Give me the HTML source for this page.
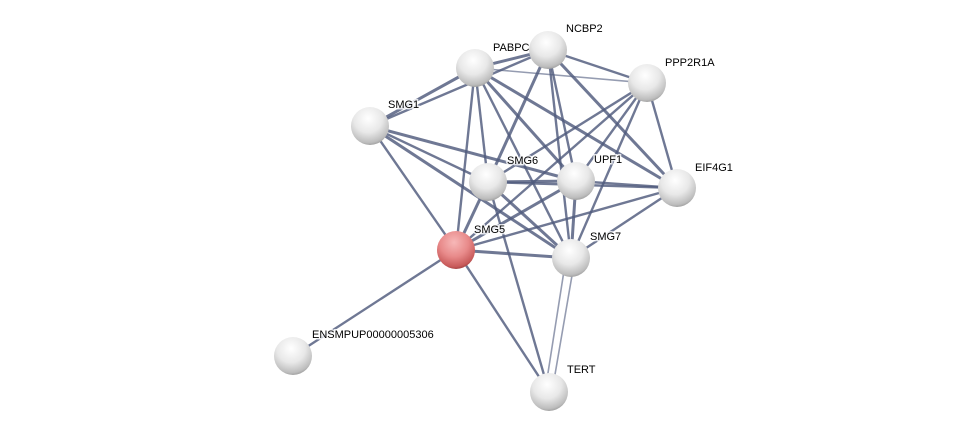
<!DOCTYPE html>
<html><head><style>
html,body{margin:0;padding:0;background:#fff;}
svg{display:block}
text{font-family:"Liberation Sans",sans-serif;font-size:11px;fill:#000;}
</style></head><body>
<svg width="975" height="436" viewBox="0 0 975 436">
<defs>
<radialGradient id="g" cx="0.45" cy="0.3" r="0.75">
<stop offset="0" stop-color="#ffffff"/>
<stop offset="0.5" stop-color="#e8e8e8"/>
<stop offset="0.85" stop-color="#bdbdbd"/>
<stop offset="1" stop-color="#8f8f8f"/>
</radialGradient>
<radialGradient id="r" cx="0.45" cy="0.3" r="0.75">
<stop offset="0" stop-color="#f7b8b8"/>
<stop offset="0.5" stop-color="#e88a8a"/>
<stop offset="0.85" stop-color="#c85a5a"/>
<stop offset="1" stop-color="#8e3434"/>
</radialGradient>
</defs>
<g stroke="#4f5a7d" stroke-opacity="0.82" fill="none">
<g stroke-width="3">
<line x1="475" y1="68" x2="548" y2="50"/>
<line x1="475" y1="68" x2="370" y2="126"/>
<line x1="548" y1="50" x2="488" y2="182"/>
<line x1="475" y1="68" x2="576" y2="181"/>
<line x1="475" y1="68" x2="677" y2="188"/>
<line x1="370" y1="126" x2="576" y2="181"/>
<line x1="488" y1="182" x2="576" y2="181"/>
<line x1="488" y1="182" x2="571" y2="258"/>
<line x1="456" y1="250" x2="488" y2="182"/>
<line x1="456" y1="250" x2="576" y2="181"/>
<line x1="456" y1="250" x2="571" y2="258"/>
<line x1="576" y1="181" x2="571" y2="258"/>
<line x1="370" y1="126" x2="571" y2="258"/>
<line x1="548" y1="50" x2="677" y2="188"/>
</g>
<g stroke-width="2.4">
<line x1="548" y1="50" x2="370" y2="126"/>
<line x1="475" y1="68" x2="488" y2="182"/>
<line x1="475" y1="68" x2="456" y2="250"/>
<line x1="475" y1="68" x2="571" y2="258"/>
<line x1="548" y1="50" x2="576" y2="181"/>
<line x1="548" y1="50" x2="571" y2="258"/>
<line x1="548" y1="50" x2="647" y2="83"/>
<line x1="647" y1="83" x2="488" y2="182"/>
<line x1="647" y1="83" x2="576" y2="181"/>
<line x1="647" y1="83" x2="571" y2="258"/>
<line x1="647" y1="83" x2="456" y2="250"/>
<line x1="647" y1="83" x2="677" y2="188"/>
<line x1="370" y1="126" x2="488" y2="182"/>
<line x1="370" y1="126" x2="456" y2="250"/>
<line x1="488" y1="182" x2="677" y2="188"/>
<line x1="576" y1="181" x2="677" y2="188"/>
<line x1="571" y1="258" x2="677" y2="188"/>
<line x1="456" y1="250" x2="677" y2="188"/>
<line x1="456" y1="250" x2="293" y2="356"/>
<line x1="456" y1="250" x2="549" y2="392"/>
<line x1="488" y1="182" x2="549" y2="392"/>
</g>
<g stroke-width="1.6" stroke-opacity="0.6">
<line x1="475" y1="68" x2="647" y2="83"/>
<line x1="566" y1="258" x2="545" y2="392"/>
<line x1="575" y1="258" x2="552" y2="392"/>
</g>
</g>
<g stroke="#fff" stroke-width="3" stroke-opacity="0.8" paint-order="stroke">
<text x="493" y="51">PABPC</text>
<text x="566" y="32">NCBP2</text>
<text x="665" y="66">PPP2R1A</text>
<text x="388" y="108">SMG1</text>
<text x="507" y="164">SMG6</text>
<text x="594" y="163">UPF1</text>
<text x="695" y="171">EIF4G1</text>
<text x="474" y="233">SMG5</text>
<text x="590" y="240">SMG7</text>
<text x="312" y="338">ENSMPUP00000005306</text>
<text x="567" y="373">TERT</text>
</g>
<g>
<circle cx="475" cy="68" r="19" fill="url(#g)"/>
<circle cx="548" cy="50" r="19" fill="url(#g)"/>
<circle cx="647" cy="83" r="19" fill="url(#g)"/>
<circle cx="370" cy="126" r="19" fill="url(#g)"/>
<circle cx="488" cy="182" r="19" fill="url(#g)"/>
<circle cx="576" cy="181" r="19" fill="url(#g)"/>
<circle cx="677" cy="188" r="19" fill="url(#g)"/>
<circle cx="456" cy="250" r="19" fill="url(#r)"/>
<circle cx="571" cy="258" r="19" fill="url(#g)"/>
<circle cx="293" cy="356" r="19" fill="url(#g)"/>
<circle cx="549" cy="392" r="19" fill="url(#g)"/>
</g>
</svg>
</body></html>
